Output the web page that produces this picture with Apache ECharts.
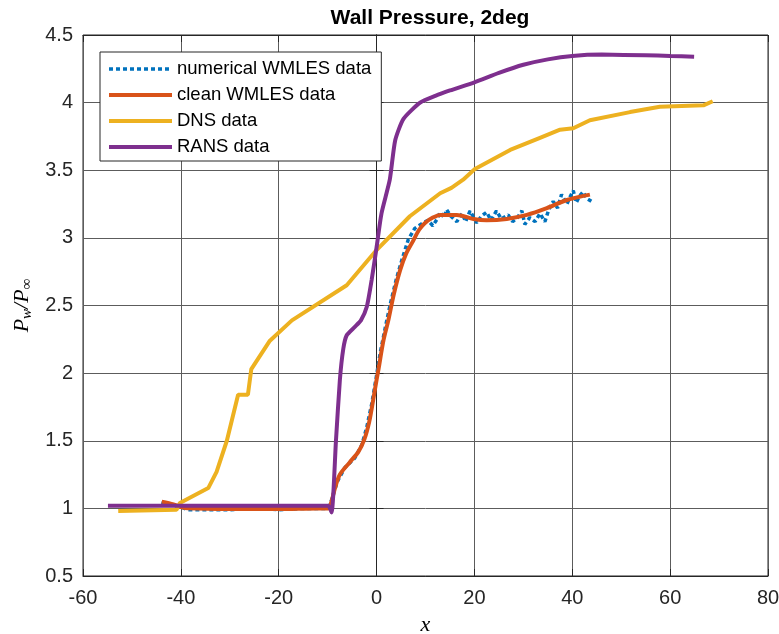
<!DOCTYPE html>
<html>
<head>
<meta charset="utf-8">
<script src="https://cdn.jsdelivr.net/npm/echarts@6/dist/echarts.min.js"></script>
<style>
  html, body { margin: 0; padding: 0; background: #fff; }
  #chart { width: 779px; height: 634px; }
</style>
</head>
<body>
<div id="chart"></div>
<script>
// x ticks / y ticks
var xTicks = [-60, -40, -20, 0, 20, 40, 60, 80]
var yTicks = [0.5, 1, 1.5, 2, 2.5, 3, 3.5, 4, 4.5]

// numerical WMLES (noisy)
var numX = [-44, -40, -38.5, -30, -25, -20, -15, -10, -9.3, -8, -6.5, -4.5, -3, -2, -1, -0.2, 0.8, 1.8, 2.8, 4, 5.2, 6.5, 7.8, 9.5, 10.5, 11.5, 12.4, 13, 13.8, 14.3, 15.2, 16.4, 17.5, 18.2, 19.1, 20.5, 21.4, 22.5, 23.4, 24.5, 25.5, 26.9, 27.8, 28.8, 29.7, 30.3, 31.3, 32.4, 33.4, 34.4, 35.2, 36.1, 37, 37.8, 38.9, 39.5, 40.2, 40.8, 41.5, 42.2, 43, 43.9]
var numY = [1.04, 1.01, 0.99, 0.99, 1.0, 0.99, 1.0, 1.0, 1.05, 1.2, 1.3, 1.37, 1.47, 1.6, 1.77, 1.94, 2.16, 2.34, 2.51, 2.69, 2.84, 2.99, 3.07, 3.11, 3.13, 3.09, 3.14, 3.19, 3.15, 3.21, 3.16, 3.12, 3.18, 3.12, 3.2, 3.11, 3.16, 3.19, 3.13, 3.2, 3.14, 3.17, 3.12, 3.15, 3.2, 3.1, 3.15, 3.12, 3.18, 3.12, 3.21, 3.27, 3.22, 3.32, 3.25, 3.3, 3.35, 3.26, 3.31, 3.34, 3.29, 3.27]

// clean WMLES
var cleanX = [-43.9, -41.5, -40, -38.5, -30, -20, -12, -9.9, -9.3, -8.5, -7.5, -5.5, -3.7, -2.5, -1.5, -0.7, 0, 0.4, 1.4, 2.4, 3.5, 4.8, 6, 7.5, 8.7, 9.9, 11.5, 13, 16.4, 19.8, 22.5, 26.6, 30.7, 34.8, 38.9, 43.6]
var cleanY = [1.05, 1.03, 1.01, 1.0, 0.995, 0.995, 1.0, 1.0, 1.04, 1.15, 1.25, 1.34, 1.42, 1.51, 1.64, 1.8, 1.95, 2.03, 2.24, 2.39, 2.58, 2.76, 2.88, 2.98, 3.06, 3.11, 3.15, 3.17, 3.17, 3.14, 3.13, 3.14, 3.17, 3.22, 3.28, 3.32]

// DNS
var dnsX = [-52.8, -40.9, -40.2, -34.4, -32.7, -30.6, -28.3, -26.3, -25.6, -21.8, -17.3, -6.1, 0, 6.8, 13, 15.3, 17.7, 20.1, 27.3, 33.4, 37.5, 40.2, 43.6, 51.8, 57.9, 66.8, 68.7]
var dnsY = [0.98, 0.99, 1.04, 1.15, 1.27, 1.5, 1.84, 1.84, 2.03, 2.24, 2.39, 2.65, 2.91, 3.16, 3.33, 3.37, 3.43, 3.51, 3.65, 3.74, 3.8, 3.81, 3.87, 3.93, 3.97, 3.98, 4.01]

// RANS
var ransX = [-54.9, -9.9, -9.2, -8.3, -7.5, -6.8, -6.1, -4.5, -3.2, -2, -1, 0, 1, 2.7, 3.8, 5.5, 8.9, 12, 15, 20, 25, 30, 35, 40, 46, 55, 60, 64.9]
var ransY = [1.02, 1.02, 0.97, 1.5, 1.95, 2.18, 2.28, 2.34, 2.39, 2.49, 2.69, 2.93, 3.18, 3.43, 3.72, 3.88, 4.0, 4.05, 4.09, 4.15, 4.22, 4.28, 4.32, 4.345, 4.355, 4.35, 4.345, 4.34]

function pairs(xs, ys) {
    return xs.map(function (x, i) { return [x, ys[i]] })
}

var myCharts = echarts.init(document.getElementById('chart'))

var tickFont = { color: '#262626', fontSize: 20, fontFamily: 'Liberation Sans, Arial, sans-serif' }

var option = {
    animation: false,
    title: {
        text: 'Wall Pressure, 2deg',
        left: 425,
        textAlign: 'center',
        top: 3,
        textStyle: { color: '#000', fontSize: 21, fontWeight: 'bold', fontFamily: 'Liberation Sans, Arial, sans-serif' }
    },
    legend: {
        orient: 'vertical',
        left: 100,
        top: 52,
        padding: [7, 10, 4, 7],
        itemWidth: 63,
        itemHeight: 14,
        itemGap: 6,
        backgroundColor: '#fff',
        borderColor: '#262626',
        borderWidth: 1,
        itemStyle: { opacity: 0 },
        textStyle: { color: '#000', fontSize: 18.5, lineHeight: 20, fontFamily: 'Liberation Sans, Arial, sans-serif' },
        data: [
            { name: 'numerical WMLES data', lineStyle: { width: 3.5 } },
            { name: 'clean WMLES data', lineStyle: { width: 4 } },
            { name: 'DNS data', lineStyle: { width: 4 } },
            { name: 'RANS data', lineStyle: { width: 4 } }
        ]
    },
    grid: {
        left: 83,
        right: 11,
        top: 35,
        bottom: 58,
        outerBoundsMode: 'none',
        show: true,
        borderColor: '#262626',
        borderWidth: 1
    },
    xAxis: [
        {
            type: 'value',
            min: xTicks[0],
            max: xTicks[xTicks.length - 1],
            interval: 20,
            name: 'x',
            nameLocation: 'middle',
            nameGap: 38,
            nameTextStyle: { color: '#000', fontSize: 22, fontStyle: 'italic', fontFamily: 'Liberation Serif, serif' },
            axisLine: { lineStyle: { color: '#262626' } },
            axisTick: { inside: true, length: 7, lineStyle: { color: '#262626' } },
            axisLabel: Object.assign({ margin: 12 }, tickFont),
            splitLine: { lineStyle: { color: '#5c5c5c' } }
        },
        {
            type: 'value', position: 'top',
            min: xTicks[0], max: xTicks[xTicks.length - 1], interval: 20,
            axisLine: { lineStyle: { color: '#262626' } },
            axisTick: { inside: true, length: 7, lineStyle: { color: '#262626' } },
            axisLabel: { show: false },
            splitLine: { show: false }
        }
    ],
    yAxis: [
        {
            type: 'value',
            min: yTicks[0],
            max: yTicks[yTicks.length - 1],
            interval: 0.5,
            name: '{p|P}{s|w}{p|/P}{s|∞}',
            nameLocation: 'middle',
            nameGap: 46,
            nameTextStyle: {
                color: '#000',
                rich: {
                    p: { fontSize: 22, fontStyle: 'italic', fontFamily: 'Liberation Serif, serif', color: '#000' },
                    s: { fontSize: 15, fontStyle: 'italic', fontFamily: 'Liberation Serif, serif', color: '#000', padding: [10, 0, 0, 0] }
                }
            },
            axisLine: { lineStyle: { color: '#262626' } },
            axisTick: { inside: true, length: 7, lineStyle: { color: '#262626' } },
            axisLabel: Object.assign({ margin: 10 }, tickFont),
            splitLine: { lineStyle: { color: '#5c5c5c' } }
        },
        {
            type: 'value', position: 'right',
            min: yTicks[0], max: yTicks[yTicks.length - 1], interval: 0.5,
            axisLine: { show: true, lineStyle: { color: '#262626' } },
            axisTick: { show: true, inside: true, length: 7, lineStyle: { color: '#262626' } },
            axisLabel: { show: false },
            splitLine: { show: false }
        }
    ],
    series: [
        {
            name: 'numerical WMLES data',
            type: 'line',
            symbol: 'none',
            data: pairs(numX, numY),
            lineStyle: { color: '#0072BD', width: 3.5, type: [4, 3] },
            itemStyle: { color: '#0072BD' }
        },
        {
            name: 'clean WMLES data',
            type: 'line',
            symbol: 'none',
            smooth: 0.3,
            data: pairs(cleanX, cleanY),
            lineStyle: { color: '#D95319', width: 4 },
            itemStyle: { color: '#D95319' }
        },
        {
            name: 'DNS data',
            type: 'line',
            symbol: 'none',
            data: pairs(dnsX, dnsY),
            lineStyle: { color: '#EDB120', width: 4 },
            itemStyle: { color: '#EDB120' }
        },
        {
            name: 'RANS data',
            type: 'line',
            symbol: 'none',
            smooth: 0.2,
            data: pairs(ransX, ransY),
            lineStyle: { color: '#7E2F8E', width: 4 },
            itemStyle: { color: '#7E2F8E' }
        }
    ]
}

myCharts.setOption(option)

window.addEventListener('resize', function () {
    myCharts.resize()
})
</script>
</body>
</html>
